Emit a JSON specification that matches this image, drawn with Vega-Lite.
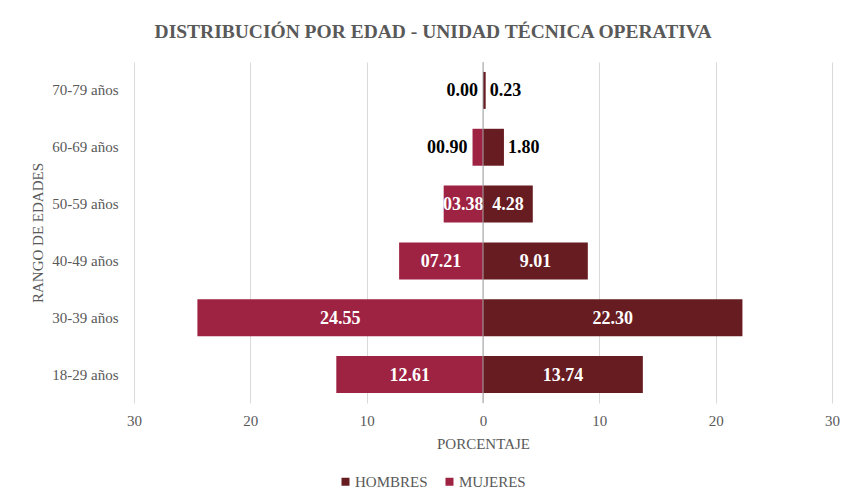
{
  "$schema": "https://vega.github.io/schema/vega-lite/v6.json",
  "width": 698,
  "height": 341,
  "autosize": {"type": "none"},
  "padding": {"left": 134, "top": 62, "right": 14, "bottom": 97},
  "background": "white",
  "title": {
    "text": "DISTRIBUCIÓN POR EDAD - UNIDAD TÉCNICA OPERATIVA",
    "font": "Liberation Serif",
    "fontSize": 19.5,
    "fontWeight": "bold",
    "color": "#595959",
    "anchor": "middle",
    "frame": "group",
    "dx": -50,
    "offset": 19
  },
  "data": {
    "values": [
      {"edad": "70-79 años", "sexo": "HOMBRES", "valor": 0.23, "etiqueta": "0.23"},
      {"edad": "60-69 años", "sexo": "HOMBRES", "valor": 1.8, "etiqueta": "1.80"},
      {"edad": "50-59 años", "sexo": "HOMBRES", "valor": 4.28, "etiqueta": "4.28"},
      {"edad": "40-49 años", "sexo": "HOMBRES", "valor": 9.01, "etiqueta": "9.01"},
      {"edad": "30-39 años", "sexo": "HOMBRES", "valor": 22.3, "etiqueta": "22.30"},
      {"edad": "18-29 años", "sexo": "HOMBRES", "valor": 13.74, "etiqueta": "13.74"},
      {"edad": "70-79 años", "sexo": "MUJERES", "valor": 0, "etiqueta": "0.00"},
      {"edad": "60-69 años", "sexo": "MUJERES", "valor": -0.9, "etiqueta": "00.90"},
      {"edad": "50-59 años", "sexo": "MUJERES", "valor": -3.38, "etiqueta": "03.38"},
      {"edad": "40-49 años", "sexo": "MUJERES", "valor": -7.21, "etiqueta": "07.21"},
      {"edad": "30-39 años", "sexo": "MUJERES", "valor": -24.55, "etiqueta": "24.55"},
      {"edad": "18-29 años", "sexo": "MUJERES", "valor": -12.61, "etiqueta": "12.61"}
    ]
  },
  "layer": [
    {
      "mark": {"type": "bar"},
      "encoding": {
        "y": {
          "field": "edad",
          "type": "nominal",
          "sort": ["70-79 años", "60-69 años", "50-59 años", "40-49 años", "30-39 años", "18-29 años"],
          "scale": {"paddingInner": 0.35, "paddingOuter": 0.175},
          "axis": {
            "title": "RANGO DE EDADES",
            "titleFont": "Liberation Serif",
            "titleFontSize": 15,
            "titleFontWeight": "normal",
            "titleColor": "#595959",
            "titlePadding": 6,
            "labelFont": "Liberation Serif",
            "labelFontSize": 15,
            "labelColor": "#595959",
            "labelPadding": 16,
            "domain": false,
            "ticks": false,
            "grid": false
          }
        },
        "x": {
          "field": "valor",
          "type": "quantitative",
          "scale": {"domain": [-30, 30], "nice": false},
          "axis": {
            "title": "PORCENTAJE",
            "values": [-30, -20, -10, 0, 10, 20, 30],
            "labelExpr": "abs(datum.value)",
            "labelFlush": false,
            "labelBound": false,
            "titleFont": "Liberation Serif",
            "titleFontSize": 15,
            "titleFontWeight": "normal",
            "titleColor": "#595959",
            "titlePadding": 8,
            "labelFont": "Liberation Serif",
            "labelFontSize": 15,
            "labelColor": "#595959",
            "labelPadding": 10,
            "domain": false,
            "ticks": false,
            "grid": true,
            "gridColor": "#d9d9d9",
            "gridWidth": 1
          }
        },
        "color": {
          "field": "sexo",
          "type": "nominal",
          "scale": {"domain": ["HOMBRES", "MUJERES"], "range": ["#671c21", "#9e2242"]},
          "legend": {
            "title": null,
            "orient": "none",
            "direction": "horizontal",
            "legendX": 204,
            "legendY": 412,
            "symbolType": "square",
            "symbolSize": 64,
            "symbolStrokeWidth": 0,
            "labelFont": "Liberation Serif",
            "labelFontSize": 15,
            "labelColor": "#595959",
            "labelOffset": 2,
            "columnPadding": 14
          }
        }
      }
    },
    {
      "transform": [
        {"filter": "abs(datum.valor) >= 3"},
        {"calculate": "datum.valor / 2", "as": "medio"}
      ],
      "mark": {"type": "text", "font": "Liberation Serif", "fontSize": 18, "fontWeight": "bold", "color": "white", "baseline": "middle", "align": "center", "dy": 1},
      "encoding": {
        "y": {"field": "edad", "type": "nominal", "sort": ["70-79 años", "60-69 años", "50-59 años", "40-49 años", "30-39 años", "18-29 años"]},
        "x": {"field": "medio", "type": "quantitative"},
        "text": {"field": "etiqueta"}
      }
    },
    {
      "transform": [
        {"filter": "datum.sexo == 'MUJERES' && abs(datum.valor) < 3"}
      ],
      "mark": {"type": "text", "font": "Liberation Serif", "fontSize": 18, "fontWeight": "bold", "color": "black", "baseline": "middle", "align": "right", "dx": -5, "dy": 1},
      "encoding": {
        "y": {"field": "edad", "type": "nominal", "sort": ["70-79 años", "60-69 años", "50-59 años", "40-49 años", "30-39 años", "18-29 años"]},
        "x": {"field": "valor", "type": "quantitative"},
        "text": {"field": "etiqueta"}
      }
    },
    {
      "transform": [
        {"filter": "datum.sexo == 'HOMBRES' && abs(datum.valor) < 3"}
      ],
      "mark": {"type": "text", "font": "Liberation Serif", "fontSize": 18, "fontWeight": "bold", "color": "black", "baseline": "middle", "align": "left", "dx": 4, "dy": 1},
      "encoding": {
        "y": {"field": "edad", "type": "nominal", "sort": ["70-79 años", "60-69 años", "50-59 años", "40-49 años", "30-39 años", "18-29 años"]},
        "x": {"field": "valor", "type": "quantitative"},
        "text": {"field": "etiqueta"}
      }
    },
    {
      "data": {"values": [{"cero": 0}]},
      "mark": {"type": "rule", "color": "#a6a6a6", "strokeWidth": 1},
      "encoding": {
        "x": {"field": "cero", "type": "quantitative"}
      }
    }
  ],
  "config": {
    "font": "Liberation Serif",
    "view": {"stroke": null}
  }
}
